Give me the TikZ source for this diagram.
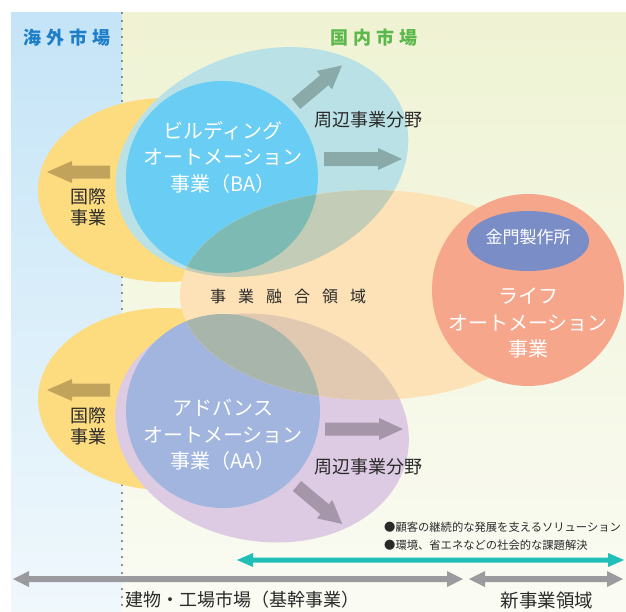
\documentclass[tikz,border=0pt]{standalone}
\usepackage{fontspec}
\setmainfont{Noto Sans CJK JP}
\definecolor{bgLtop}{HTML}{C4E4F7}
\definecolor{bgLbot}{HTML}{F0F8FC}
\definecolor{bgRtop}{HTML}{EFF3D3}
\definecolor{bgRbot}{HTML}{FAFBF3}
\definecolor{yell}{HTML}{FDDC80}
\definecolor{ltblue}{HTML}{BAE2E6}
\definecolor{bablue}{HTML}{6ACDF4}
\definecolor{purp}{HTML}{DDCBE3}
\definecolor{aablue}{HTML}{A1B5DE}
\definecolor{peach}{HTML}{FEE2B7}
\definecolor{ovLt}{HTML}{C3CCB6}
\definecolor{ovBA}{HTML}{7DBAB3}
\definecolor{ovPu}{HTML}{E1C8B1}
\definecolor{ovAA}{HTML}{A7B5AB}
\definecolor{salmon}{HTML}{F6A68A}
\definecolor{kinmon}{HTML}{7A8DC7}
\definecolor{arrTeal}{HTML}{8AAAAA}
\definecolor{arrPurp}{HTML}{A696AA}
\definecolor{arrGold}{HTML}{C1A35C}
\definecolor{lineTeal}{HTML}{1FBFB8}
\definecolor{lineGray}{HTML}{9A9A9F}
\definecolor{hdrBlue}{HTML}{1E7EC8}
\definecolor{hdrGreen}{HTML}{5BB84A}
\definecolor{txt}{HTML}{2A2A2A}
% block arrow: style, x, y, angle, length, shaft half width, head half width, head length
\newcommand{\blockarr}[8]{%
  \begin{scope}[shift={(#2,#3)}, rotate=#4]
    \fill[#1] (0,#6) -- ({#5-#8},#6) -- ({#5-#8},#7) -- (#5,0) -- ({#5-#8},-#7) -- ({#5-#8},-#6) -- (0,-#6) -- cycle;
  \end{scope}}
% double arrow: style, x1, x2, y, shaft hw, head hw, head len
\newcommand{\dblarr}[7]{%
  \fill[#1] (#2,#4) -- ({#2+#7},{#4-#6}) -- ({#2+#7},{#4-#5}) -- ({#3-#7},{#4-#5}) -- ({#3-#7},{#4-#6}) -- (#3,#4)
    -- ({#3-#7},{#4+#6}) -- ({#3-#7},{#4+#5}) -- ({#2+#7},{#4+#5}) -- ({#2+#7},{#4+#6}) -- cycle;}
\tikzset{
  whitetxt/.style={text=white, align=center, inner sep=0pt, font=\fontsize{20}{26.5}\selectfont},
  darktxt/.style={text=txt, align=center, inner sep=0pt, font=\fontsize{18}{21}\selectfont},
  dotline/.style={draw=txt, line width=1.8pt, dash pattern=on 0pt off 8pt, line cap=round},
}
\begin{document}
\begin{tikzpicture}[x=1pt,y=-1pt]
\useasboundingbox (0,0) rectangle (626,611);
% backgrounds
\shade[top color=bgLtop, bottom color=bgLbot] (11,12) rectangle (122,611);
\shade[top color=bgRtop, bottom color=bgRbot] (122,12) rectangle (626,611);
\draw[dotline] (122,13) -- (122,611);
% headers
\node[font=\fontsize{18}{18}\selectfont\bfseries, text=hdrBlue, inner sep=0pt] (hdrL) at (67,38) {海\hspace{5pt}外\hspace{5pt}市\hspace{5pt}場};
\node[font=\fontsize{18}{18}\selectfont\bfseries, text=hdrGreen, inner sep=0pt] (hdrR) at (374,38) {国\hspace{5pt}内\hspace{5pt}市\hspace{5pt}場};
% yellow ellipses
\fill[yell] (165,190) ellipse [x radius=127pt, y radius=92pt];
\fill[yell] (165,399) ellipse [x radius=127pt, y radius=91pt];
% BA region
\begin{scope}[rotate around={19:(262,162)}]
  \fill[ltblue] (262,162) ellipse [x radius=150pt, y radius=110pt];
\end{scope}
\fill[bablue] (222,177) circle [radius=96pt];
% AA region
\begin{scope}[rotate around={-11:(262,428)}]
  \fill[purp] (262,428) ellipse [x radius=148pt, y radius=113pt];
\end{scope}
\fill[aablue] (223,411) circle [radius=97pt];
% fusion ellipse
\fill[peach] (372,295) ellipse [x radius=192pt, y radius=105pt];
\begin{scope}
  \clip (372,295) ellipse [x radius=192pt, y radius=105pt];
  \begin{scope}[rotate around={19:(262,162)}]
    \fill[ovLt] (262,162) ellipse [x radius=150pt, y radius=110pt];
  \end{scope}
  \fill[ovBA] (222,177) circle [radius=96pt];
  \begin{scope}[rotate around={-11:(262,428)}]
    \fill[ovPu] (262,428) ellipse [x radius=148pt, y radius=113pt];
  \end{scope}
  \fill[ovAA] (223,411) circle [radius=97pt];
\end{scope}
% life automation
\fill[salmon] (528,290) circle [radius=96pt];
\fill[kinmon] (528,241) ellipse [x radius=61pt, y radius=30pt];
% block arrows
\blockarr{arrGold}{110}{172}{180}{63}{6.5}{11}{25}
\blockarr{arrGold}{110}{390}{180}{63}{6.5}{11}{25}
\blockarr{arrTeal}{296}{104}{40}{60}{6.5}{12}{23}
\blockarr{arrTeal}{324}{159}{0}{78}{7}{11}{24}
\blockarr{arrPurp}{325}{429}{0}{78}{6.5}{11}{24}
\blockarr{arrPurp}{297}{486}{-40}{59}{6.5}{12}{23}
% texts
\node[whitetxt] (ba) at (223,157) {ビルディング\\オートメーション\\事業（BA）};
\node[whitetxt] (aa) at (223,435) {アドバンス\\オートメーション\\事業（AA）};
\node[whitetxt] (la) at (528,323) {ライフ\\オートメーション\\事業};
\node[text=white, inner sep=0pt, font=\fontsize{17}{17}\selectfont] (km) at (528,237) {金門製作所};
\node[darktxt] (intl1) at (88,207) {国際\\事業};
\node[darktxt] (intl2) at (88,426) {国際\\事業};
\node[darktxt] (per1) at (368,120) {周辺事業分野};
\node[darktxt] (per2) at (368,467) {周辺事業分野};
\node[text=txt, inner sep=0pt, font=\fontsize{16}{16}\selectfont] (fus) at (288,296) {事\hspace{12pt}業\hspace{12pt}融\hspace{12pt}合\hspace{12pt}領\hspace{12pt}域};
\node[text=txt, inner sep=0pt, anchor=west, font=\fontsize{11.3}{11.3}\selectfont] (b1) at (384,527) {●顧客の継続的な発展を支えるソリューション};
\node[text=txt, inner sep=0pt, anchor=west, font=\fontsize{11.3}{11.3}\selectfont] (b2) at (384,545) {●環境、省エネなどの社会的な課題解決};
% double arrows
\dblarr{lineTeal}{237}{624}{560}{2.5}{7}{16}
\dblarr{lineGray}{13}{463}{579}{3}{8}{16}
\dblarr{lineGray}{469}{623}{579}{3}{8}{16}
\node[darktxt] (core) at (242,600) {建物・工場市場（基幹事業）};
\node[darktxt, font=\fontsize{18.5}{18.5}\selectfont] (newb) at (547,600) {新事業領域};
\end{tikzpicture}
\end{document}
